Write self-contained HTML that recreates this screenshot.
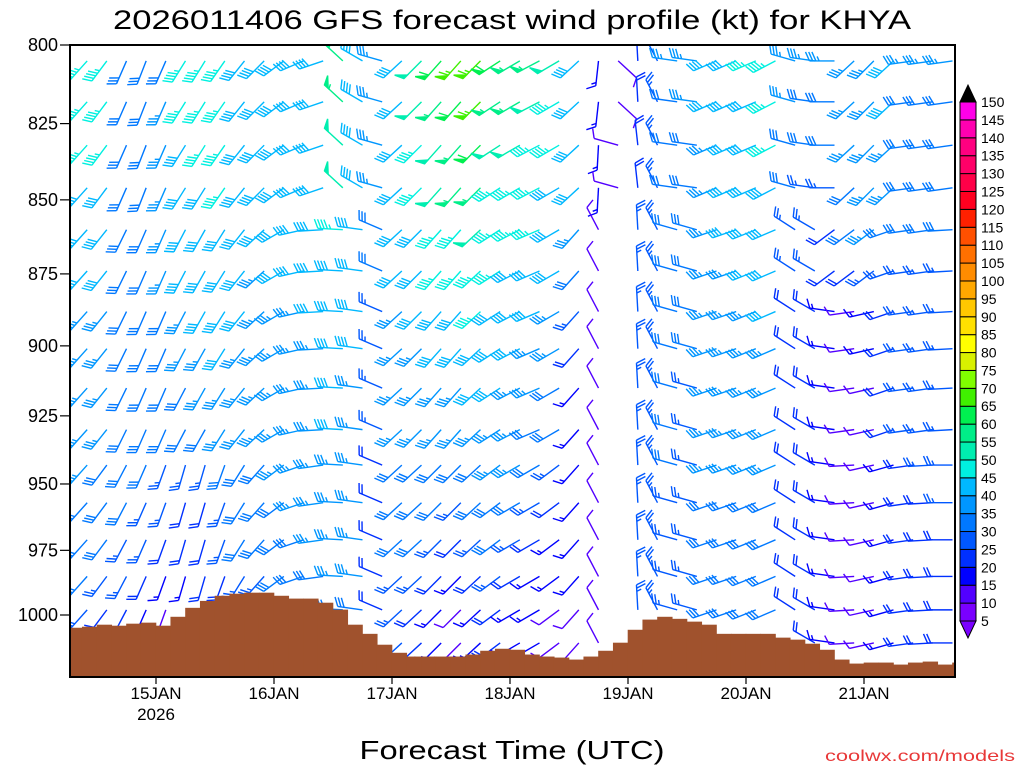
<!DOCTYPE html>
<html><head><meta charset="utf-8"><style>
html,body{margin:0;padding:0;background:#fff;}
svg{display:block;font-family:"Liberation Sans",sans-serif;}
</style></head><body>
<svg id="chart" width="1024" height="768" viewBox="0 0 1024 768" xmlns="http://www.w3.org/2000/svg">
<defs><clipPath id="plotclip"><rect x="70" y="45" width="885" height="632"/></clipPath></defs>
<text x="512" y="29" text-anchor="middle" font-size="27" textLength="798" lengthAdjust="spacingAndGlyphs" fill="#000">2026011406 GFS forecast wind profile (kt) for KHYA</text>
<g id="barbs" clip-path="url(#plotclip)"></g>
<g id="terrain" clip-path="url(#plotclip)"></g>
<rect x="70" y="45" width="885" height="632" fill="none" stroke="#000" stroke-width="2"/>
<g id="yaxis"></g>
<g id="xaxis"></g>
<g id="colorbar"></g>
<text x="512" y="759" text-anchor="middle" font-size="26" textLength="305" lengthAdjust="spacingAndGlyphs" fill="#000">Forecast Time (UTC)</text>
<text x="1015" y="761" text-anchor="end" font-size="16" textLength="190" lengthAdjust="spacingAndGlyphs" fill="#e83838">coolwx.com/models</text>
</svg>
<script>
const levels=[805,818,832,846,860,874,888,901,915,930,943,957,971,985,998,1011];
const hours=[0,4,8,12,16,20,24,28,32,36,40,44,48,52,56,60,64,68,72,76,80,84,88,92,96,100,104,108,112,116,120,124,128,132,136,140,144,148,152,156,160,164,168,172,176,180];
const dirA=[235,235,230,215,212,215,225,225,228,232,238,245,255,258,300,290,280,240,238,235,235,238,248,250,252,250,240,190,120,355,320,275,275,255,255,255,252,280,275,270,240,238,240,265,265,265];
const dirA2=[235,235,230,215,212,215,225,225,228,232,238,245,255,258,300,290,280,240,238,235,235,238,248,250,252,250,240,185,280,350,320,275,275,255,255,255,252,280,275,270,240,238,240,265,265,265];
const dirB=[235,235,232,218,215,215,220,222,225,232,240,250,262,268,272,275,285,240,238,235,235,240,248,252,255,250,235,320,0,355,320,280,280,258,258,256,255,292,290,275,265,262,258,265,265,268];
const dirB4=[235,235,232,218,215,215,220,222,225,232,240,250,262,268,272,275,285,240,238,235,235,240,248,252,255,250,235,320,0,355,320,280,280,258,258,256,255,292,290,245,245,245,258,265,265,268];
const dirC=[235,235,230,220,215,210,205,205,210,225,235,245,258,265,272,275,285,240,240,238,238,240,245,250,250,245,235,320,0,355,320,280,280,258,258,256,255,292,290,275,268,262,260,265,268,270];
const windDir=[dirA,dirA,dirA2,dirA2,dirB4,dirB4,dirB,dirB,dirB,dirB,dirC,dirC,dirC,dirC,dirC,dirC];
const windSpd=[
[45,45,45,30,30,30,45,45,45,40,40,40,40,40,55,40,35,40,50,60,65,65,60,55,55,50,40,15,10,20,25,35,35,40,40,45,45,35,35,35,35,35,40,35,35,35],
[45,45,45,30,30,35,45,45,45,40,40,40,40,40,55,40,35,40,50,55,60,65,55,55,50,45,40,15,10,20,25,30,35,40,40,40,45,35,30,30,35,35,40,30,30,30],
[45,45,45,30,30,35,40,45,45,40,40,40,40,40,50,40,35,40,45,50,55,60,50,50,45,45,40,15,10,20,25,30,30,35,40,40,45,30,30,30,35,35,35,30,30,30],
[45,40,40,30,30,35,40,40,45,40,40,40,40,40,50,40,35,40,45,50,55,55,45,45,45,40,40,15,10,20,25,30,30,35,40,40,40,30,25,25,30,35,35,30,30,30],
[40,40,40,30,30,35,40,40,40,40,40,40,40,40,45,40,30,40,40,45,45,50,45,45,45,40,35,10,0,25,25,30,30,35,40,40,40,25,25,20,30,35,30,30,30,30],
[40,40,40,30,30,35,40,40,40,40,35,40,40,40,40,40,30,40,40,45,45,45,45,40,40,40,30,10,0,25,25,30,30,35,35,40,40,25,25,20,20,25,25,25,25,25],
[40,35,35,30,30,30,35,40,40,40,35,35,35,40,40,40,25,35,40,40,40,45,40,40,40,35,25,10,0,25,25,30,30,35,35,35,40,20,20,15,10,15,20,25,25,25],
[40,35,35,30,30,30,35,35,40,35,35,35,35,35,40,40,25,35,35,40,40,40,40,40,35,35,20,10,0,25,25,30,30,35,35,35,35,20,20,15,10,15,20,25,25,25],
[35,35,35,30,30,30,30,35,35,35,35,35,35,35,40,35,25,35,35,35,35,40,40,35,35,30,15,10,0,25,25,30,25,35,35,35,35,20,20,15,10,10,20,25,25,25],
[35,35,35,30,30,30,30,30,35,35,35,35,35,35,40,35,25,35,35,35,35,35,35,35,30,30,15,10,0,25,25,30,25,35,35,35,35,20,20,15,10,10,20,25,25,25],
[35,35,30,30,30,25,25,25,30,30,30,35,35,35,35,35,20,30,30,30,30,30,35,35,30,25,15,10,0,25,25,30,25,35,35,35,35,20,20,15,10,10,15,20,25,25],
[30,30,30,30,25,25,20,20,25,30,30,30,35,35,35,35,20,30,30,30,25,30,30,30,25,20,15,10,0,25,25,25,25,30,30,30,30,20,20,15,10,10,15,20,20,25],
[30,30,30,25,25,20,20,20,25,30,30,30,30,35,35,35,20,30,30,25,20,25,30,25,20,15,15,10,0,25,25,25,25,30,30,30,30,20,20,15,10,10,15,20,20,20],
[30,30,25,25,20,15,15,20,20,25,25,30,30,30,35,35,20,25,25,20,15,20,25,20,15,15,15,10,0,25,25,25,25,30,30,30,30,20,20,15,10,10,15,20,20,20],
[25,25,20,20,15,10,10,15,20,25,25,25,30,30,30,30,20,25,20,15,10,15,20,15,15,10,10,10,0,25,25,25,25,30,30,30,30,20,20,15,10,10,15,20,20,20],
[25,25,20,20,15,10,10,15,20,25,25,25,30,30,30,30,20,25,20,15,10,15,20,15,15,10,10,10,0,25,25,25,25,30,30,30,30,20,20,15,10,10,15,20,20,20]];
const sfcHours=[0,3,6,9,12,15,18,21,24,27,30,33,36,39,42,45,48,51,54,57,60,63,66,69,72,75,78,81,84,87,90,93,96,99,102,105,108,111,114,117,120,123,126,129,132,135,138,141,144,147,150,153,156,159,162,165,168,171,174,177,180];
const sfcPres=[1005.0,1004.6,1003.8,1004.2,1003.4,1003.0,1004.2,1000.7,997.2,994.5,992.5,991.7,991.3,991.3,992.5,993.6,993.6,995.2,997.9,1003.8,1007.4,1011.7,1014.9,1016.4,1016.4,1016.4,1016.4,1015.6,1014.1,1013.3,1013.7,1015.6,1016.4,1016.8,1017.6,1016.4,1014.1,1010.9,1005.8,1001.8,1000.7,1001.5,1002.6,1003.8,1007.4,1007.4,1007.4,1007.4,1008.9,1009.7,1011.3,1013.7,1017.6,1019.2,1018.8,1018.8,1019.6,1018.8,1018.4,1019.6,1018.8];
const pressureTicks=[800,825,850,875,900,925,950,975,1000];
const dateTickHours=[18,42,66,90,114,138,162];
const dateTickLabels=["15JAN","16JAN","17JAN","18JAN","19JAN","20JAN","21JAN"];
const colorbarLabels=[150,145,140,135,130,125,120,115,110,105,100,95,90,85,80,75,70,65,60,55,50,45,40,35,30,25,20,15,10,5];
const speedColors=["#7a00ff","#5200ff","#0000ff","#0030ff","#0058ff","#0078ff","#0096ff","#00b8ff","#00f0e0","#00eeb0","#00ee88","#00f050","#40f000","#80ff00","#d8f000","#ffff00","#ffe000","#ffc800","#ffa800","#ff8c00","#ff7000","#ff5000","#ff2000","#ff0020","#ff0048","#ff0068","#ff0080","#ff00b0","#ff00e8"];

const NS="http://www.w3.org/2000/svg";
const X0=67.5, PXH=118/24, Y0=45, YH=570, LP0=Math.log(800), LPR=Math.log(1000)-Math.log(800);
function xs(h){return X0+h*PXH;}
function ys(p){return Y0+(Math.log(p)-LP0)/LPR*YH;}
function mk(tag,attrs,parent){const e=document.createElementNS(NS,tag);for(const k in attrs)e.setAttribute(k,attrs[k]);parent.appendChild(e);return e;}
function colorFor(s){let i=Math.floor(s/5)-1;if(i<0)i=0;if(i>28)i=28;return speedColors[i];}
function sfcAt(h){let best=0;for(let i=0;i<sfcHours.length;i++){if(Math.abs(sfcHours[i]-h)<Math.abs(sfcHours[best]-h))best=i;}return sfcPres[best];}

// barbs
const gB=document.getElementById('barbs');
const STRETCH=1.6;
for(let r=0;r<levels.length;r++){
  for(let c=0;c<hours.length;c++){
    const s=windSpd[r][c], d=windDir[r][c];
    if(!s||s<3)continue;
    if(levels[r]>sfcAt(hours[c])-2)continue;
    const sx=xs(hours[c]), sy=ys(levels[r]);
    const a=d*Math.PI/180;
    let ux=Math.sin(a), uy=-Math.cos(a)*STRETCH;
    const n=Math.hypot(ux,uy); ux/=n; uy/=n;
    const px=-uy, py=ux, L=25, BL=9, SL=4;
    const col=colorFor(s);
    const g=mk('g',{stroke:col,fill:col,'stroke-width':1.4},gB);
    
    
    const ex=sx+ux*L, ey=sy+uy*L;
    mk('line',{x1:sx,y1:sy,x2:ex,y2:ey},g);
    let rem=Math.round(s/5)*5, pos=0;
    while(rem>=50){
      const bx=ex-ux*pos, by=ey-uy*pos;
      mk('polygon',{points:`${bx},${by} ${bx+px*BL+ux*SL},${by+py*BL+uy*SL} ${bx-ux*5},${by-uy*5}`},g);
      pos+=6; rem-=50;
    }
    while(rem>=10){
      const bx=ex-ux*pos, by=ey-uy*pos;
      mk('line',{x1:bx,y1:by,x2:bx+px*BL+ux*SL,y2:by+py*BL+uy*SL},g);
      pos+=3.2; rem-=10;
    }
    if(rem>=5){
      if(pos===0)pos=3.2;
      const bx=ex-ux*pos, by=ey-uy*pos;
      mk('line',{x1:bx,y1:by,x2:bx+(px*BL+ux*SL)/2,y2:by+(py*BL+uy*SL)/2},g);
    }
  }
}

// terrain
const gT=document.getElementById('terrain');
for(let i=0;i<sfcHours.length;i++){
  const x=xs(sfcHours[i]), y=ys(sfcPres[i]);
  const rc=mk('rect',{x:x-0.3,y:y,width:3*PXH+0.6,height:Math.max(0,678-y),fill:'#a0522d'},gT);
  
  
}

// y axis
const gY=document.getElementById('yaxis');
for(const p of pressureTicks){
  const y=ys(p);
  const t=mk('line',{x1:60,y1:y,x2:70,y2:y,stroke:'#000','stroke-width':1.2},gY);
  
  
  const tx=mk('text',{x:58,y:y+6,'text-anchor':'end','font-size':18,fill:'#000'},gY);
  
  
  tx.textContent=p;
}

// x axis
const gX=document.getElementById('xaxis');
for(let i=0;i<dateTickHours.length;i++){
  const x=xs(dateTickHours[i]);
  const t=mk('line',{x1:x,y1:677,x2:x,y2:684,stroke:'#000','stroke-width':1.2},gX);
  
  
  const tx=mk('text',{x:x,y:699,'text-anchor':'middle','font-size':17,fill:'#000'},gX);
  
  
  tx.textContent=dateTickLabels[i];
}
const yr=mk('text',{x:xs(dateTickHours[0]),y:720,'text-anchor':'middle','font-size':17,fill:'#000'},gX);


yr.textContent='2026';

// colorbar
const gC=document.getElementById('colorbar');
const CB_TOP=102, CB_BOT=621, CBX=960, CBW=16, step=(CB_BOT-CB_TOP)/(colorbarLabels.length-1);
for(let i=0;i<speedColors.length;i++){
  const y0=CB_BOT-(i+1)*step;
  const b=mk('rect',{x:CBX,y:y0,width:CBW,height:step,fill:speedColors[i],stroke:'#000','stroke-width':1},gC);
  
  
}
const tt=mk('polygon',{points:`${CBX},${CB_TOP} ${CBX+CBW},${CB_TOP} ${CBX+CBW/2},${CB_TOP-17}`,fill:'#000',stroke:'#000'},gC);


const bt=mk('polygon',{points:`${CBX},${CB_BOT} ${CBX+CBW},${CB_BOT} ${CBX+CBW/2},${CB_BOT+17}`,fill:'#7a00ff',stroke:'#000'},gC);


for(let i=0;i<colorbarLabels.length;i++){
  const tx=mk('text',{x:981,y:CB_TOP+i*step+5,'font-size':14,fill:'#000'},gC);
  
  
  tx.textContent=colorbarLabels[i];
}
</script>
</body></html>
